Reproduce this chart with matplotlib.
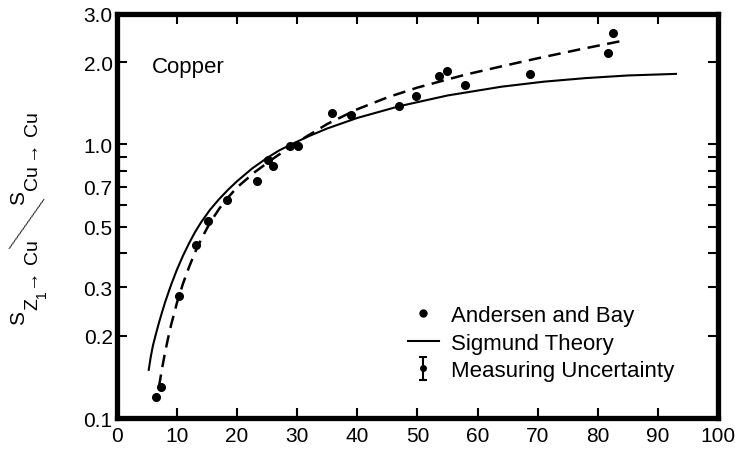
import numpy as np
import matplotlib
matplotlib.use('Agg')
from matplotlib import pyplot as plt
from matplotlib.lines import Line2D
from matplotlib.ticker import FixedLocator, NullFormatter

plt.rcParams['font.family'] = ['Liberation Sans', 'DejaVu Sans']

# Andersen and Bay measurements
data_x = [6.5, 7.3, 10.3, 13.1, 15.1, 18.3, 23.3, 25.1, 26.0, 28.8, 30.1,
          35.8, 39.0, 46.9, 49.7, 53.6, 54.9, 57.9, 68.7, 81.7, 82.5]
data_y = [0.119, 0.130, 0.279, 0.429, 0.525, 0.627, 0.736, 0.878, 0.834, 0.99, 0.99,
          1.30, 1.28, 1.38, 1.50, 1.78, 1.86, 1.65, 1.81, 2.16, 2.56]

# Sigmund theory (solid)
theory_x = [5.3, 5.65, 6, 6.5, 7, 7.5, 8, 9, 10, 11, 12, 13, 14, 15.5, 17, 18.5, 20,
            22.5, 25, 27, 29, 32, 35, 40, 47, 55, 64, 71, 78, 85, 93]
theory_y = [0.150, 0.168, 0.184, 0.203, 0.223, 0.243, 0.264, 0.306, 0.349, 0.392,
            0.435, 0.478, 0.519, 0.577, 0.631, 0.683, 0.734, 0.817, 0.893, 0.951,
            1.0, 1.074, 1.144, 1.25, 1.38, 1.51, 1.626, 1.696, 1.748, 1.787, 1.811]

# dashed curve through the data
fit_x = [7, 7.5, 8, 8.5, 9, 10, 11, 12, 13, 14, 15, 16, 17, 18, 20, 23, 26, 30, 35,
         40, 45, 50, 58, 64, 70, 77, 84]
fit_y = [0.130, 0.151, 0.173, 0.195, 0.218, 0.264, 0.310, 0.356, 0.403, 0.449, 0.494,
         0.538, 0.581, 0.622, 0.697, 0.794, 0.888, 1.02, 1.188, 1.345, 1.486, 1.614,
         1.80, 1.93, 2.065, 2.226, 2.39]

y_ticks = [0.1, 0.2, 0.3, 0.5, 0.7, 1.0, 2.0, 3.0]
y_minor = [0.4, 0.6, 0.8, 0.9]
x_ticks = [0, 10, 20, 30, 40, 50, 60, 70, 80, 90, 100]

W, H = 735, 452
fig = plt.figure(figsize=(W / 100, H / 100), dpi=100)
ax = fig.add_axes([0.159, 0.073, 0.818, 0.894])

ax.plot(theory_x, theory_y, '-', color='k', lw=1.5)
ax.plot(fit_x, fit_y, color='k', lw=1.8, dashes=(5, 3))
ax.plot(data_x, data_y, 'o', color='k', ms=5.5)

ax.set_yscale('log')
ax.set_xlim(0, 100)
ax.set_ylim(0.1, 3.0)
ax.yaxis.set_major_locator(FixedLocator(y_ticks))
ax.yaxis.set_minor_locator(FixedLocator(y_minor))
ax.set_yticklabels(['%.1f' % v for v in y_ticks])
ax.yaxis.set_minor_formatter(NullFormatter())
ax.set_xticks(x_ticks)

for s in ax.spines.values():
    s.set_linewidth(3.8)
ax.tick_params(which='both', direction='in', top=True, right=True,
               length=7.5, width=1.5, labelsize=15)
ax.tick_params(axis='y', pad=3)
ax.tick_params(axis='x', pad=6)

ax.text(0.058, 0.869, 'Copper', transform=ax.transAxes, fontsize=16, va='center')

h1 = Line2D([], [], ls='none', marker='o', color='k', ms=5)
h2 = Line2D([], [], ls='-', color='k', lw=1.5)
h3 = ax.errorbar([np.nan], [np.nan], yerr=[0.1], fmt='o', color='k', ms=4,
                 capsize=3, elinewidth=1.5, capthick=1.5)
ax.legend([h1, h2, h3], ['Andersen and Bay', 'Sigmund Theory', 'Measuring Uncertainty'],
          loc='upper left', bbox_to_anchor=(0.484, 0.28), frameon=False, fontsize=16,
          borderpad=0, borderaxespad=0, handlelength=1.4, handletextpad=0.55,
          labelspacing=0.3)

# y label  S_{Z1->Cu} / S_{Cu->Cu}, built piece by piece so the subscripts stay big
renderer = fig.canvas.get_renderer()

def chain(y_start, pieces):
    y = H - y_start
    for txt, size, xb, gap in pieces:
        y += gap
        t = fig.text(xb / W, y / H, txt, fontsize=size, rotation=90,
                     rotation_mode='anchor', ha='left', va='baseline')
        y += t.get_window_extent(renderer).height

chain(325, [('S', 15, 24, 0), ('Z', 14, 37, 1), ('1', 10, 46, 0),
            ('\u2192', 14, 35, 3), ('Cu', 14, 37, 4)])
chain(205, [('S', 15, 24, 0), ('Cu', 14, 37, 1),
            ('\u2192', 14, 35, 5), ('Cu', 14, 37, 5)])
fig.text(25.5 / W, (H - 230) / H, '/', fontsize=54, rotation=-12,
         family=['Lato', 'DejaVu Sans'], fontweight='light',
         rotation_mode='anchor', ha='center', va='center')

fig.savefig('out.png', dpi=100)
